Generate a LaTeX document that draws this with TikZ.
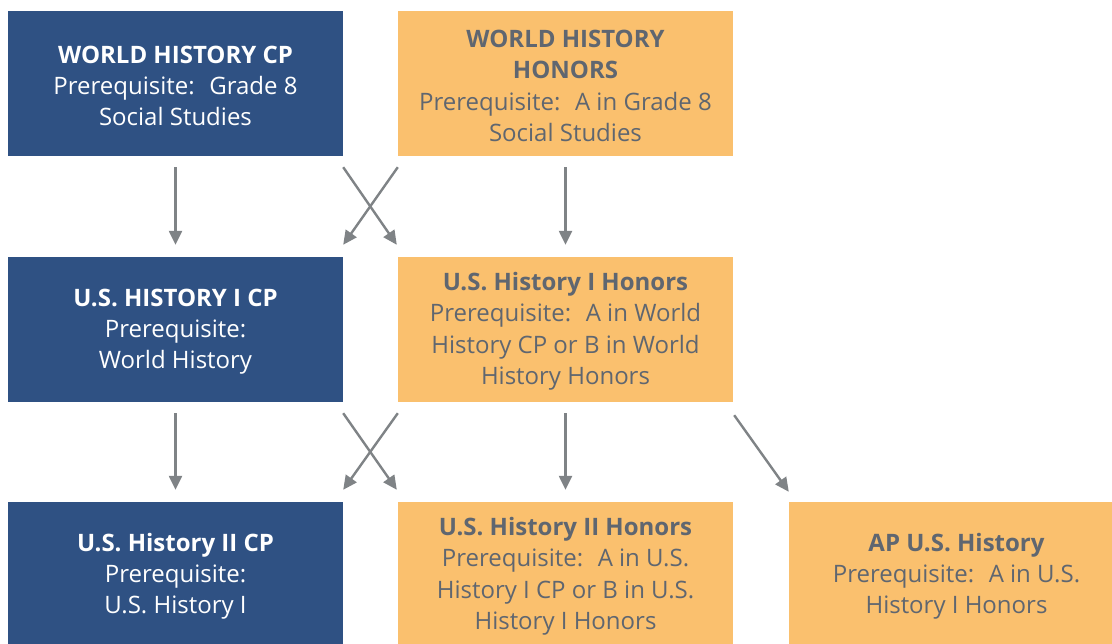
\documentclass[tikz,border=0pt]{standalone}
\usepackage{fontspec}
\setmainfont{Open Sans}
\usetikzlibrary{arrows.meta,calc}
\definecolor{cpblue}{HTML}{2F5183}
\definecolor{honorange}{HTML}{FAC06E}
\definecolor{txtgray}{HTML}{5F6670}
\definecolor{arrgray}{HTML}{7F8386}
\newcommand\boxtitle[1]{\rule{0pt}{22pt}\textbf{#1}}
\tikzset{
  box/.style={minimum width=335pt,minimum height=145pt,inner sep=0pt,align=center,
    font=\fontsize{24}{31.3}\selectfont},
  cpbox/.style={box,fill=cpblue,text=white},
  honbox/.style={box,fill=honorange,text=txtgray},
  flow/.style={draw=arrgray,line width=2.4pt,-{Triangle[width=13pt,length=14pt]}}
}
\begin{document}
\begin{tikzpicture}[x=1pt,y=-1pt]
\useasboundingbox (0,0) rectangle (1112,644);
\begin{scope}
\clip (0,0) rectangle (1112,644);
\node[cpbox] (w1) at (175.5,83.5) {\boxtitle{WORLD HISTORY CP}\\Prerequisite:~ Grade 8\\Social Studies};
\node[honbox] (w2) at (565.5,83.5) {\boxtitle{WORLD HISTORY}\\\textbf{HONORS}\\Prerequisite:~ A in Grade 8\\Social Studies};
\node[cpbox] (u1) at (175.5,329.5) {\boxtitle{U.S. HISTORY I CP}\\Prerequisite:\\World History};
\node[honbox] (u2) at (565.5,329.5) {\boxtitle{U.S. History I Honors}\\Prerequisite:~ A in World\\History CP or B in World\\History Honors};
\node[cpbox] (v1) at (175.5,574.5) {\boxtitle{U.S. History II CP}\\Prerequisite:\\U.S. History I};
\node[honbox] (v2) at (565.5,574.5) {\boxtitle{U.S. History II Honors}\\Prerequisite:~ A in U.S.\\History I CP or B in U.S.\\History I Honors};
\node[honbox] (ap) at (956.5,574.5) {\boxtitle{AP U.S. History}\\Prerequisite:~ A in U.S.\\History I Honors};
\end{scope}
% row 1 -> row 2
\draw[flow] ($(w1.south)+(0,11)$) -- ($(u1.north)+(0,-12)$);
\draw[flow] ($(w1.south east)+(0,11)$) -- ($(u2.north west)+(-1,-12)$);
\draw[flow] ($(w2.south west)+(0,11)$) -- ($(u1.north east)+(0,-12)$);
\draw[flow] ($(w2.south)+(0,11)$) -- ($(u2.north)+(0,-12)$);
% row 2 -> row 3
\draw[flow] ($(u1.south)+(0,11)$) -- ($(v1.north)+(0,-12)$);
\draw[flow] ($(u1.south east)+(0,11)$) -- ($(v2.north west)+(-1,-12)$);
\draw[flow] ($(u2.south west)+(0,11)$) -- ($(v1.north east)+(0,-12)$);
\draw[flow] ($(u2.south)+(0,11)$) -- ($(v2.north)+(0,-12)$);
\draw[flow] ($(u2.south east)+(1,13)$) -- ($(ap.north west)+(0,-10)$);
\end{tikzpicture}
\end{document}
